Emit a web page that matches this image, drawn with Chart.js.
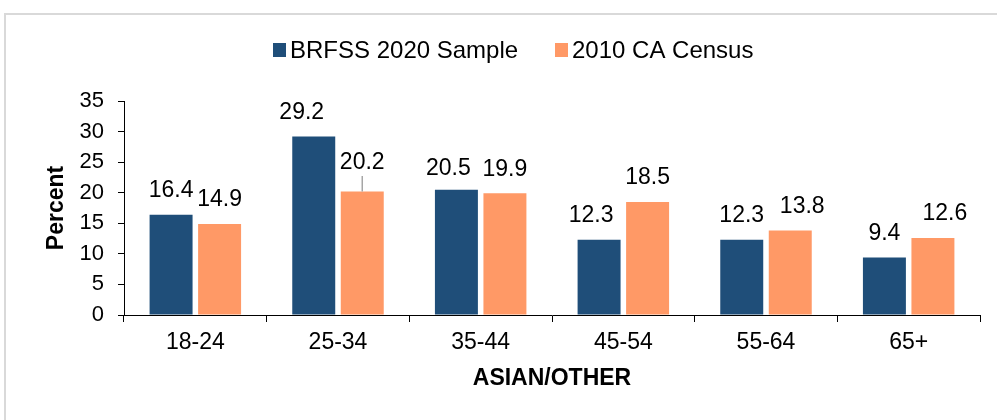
<!DOCTYPE html>
<html><head><meta charset="utf-8">
<script src="https://cdn.jsdelivr.net/npm/chart.js@4.4.1/dist/chart.umd.min.js"></script>
<style>
html,body{margin:0;padding:0;background:#fff;overflow:hidden}
#wrap{position:relative;width:997px;height:420px}
#frame{position:absolute;left:4px;top:13px;width:1000px;height:420px;border:2px solid #d9d9d9;box-sizing:border-box}
canvas{position:absolute;left:0;top:0}
</style></head><body>
<div id="wrap"><div id="frame"></div><canvas id="c" width="997" height="420"></canvas></div>
<script>
const categories = ['18-24', '25-34', '35-44', '45-54', '55-64', '65+'];
const brfss2020 = [16.4, 29.2, 20.5, 12.3, 12.3, 9.4];
const census2010 = [14.9, 20.2, 19.9, 18.5, 13.8, 12.6];
const yTicks = [0, 5, 10, 15, 20, 25, 30, 35];
const seriesNames = ['BRFSS 2020 Sample', '2010 CA Census'];
const xTitle = 'ASIAN/OTHER';
const yTitle = 'Percent';

const FONT = '"Liberation Sans", Arial, sans-serif';
const NAVY = '#1F4E79';
const ORANGE = '#FF9966';

// label nudges [dx, dy] (styling only)
const labelShift = [
  [[0,0],[-12,0],[-8,3],[-8,0],[0,0],[0,0]],
  [[0,0],[0,-4.5],[0,0],[0,0],[12,0],[12,0]]
];

const valueLabels = {
  id: 'valueLabels',
  afterDatasetsDraw(chart) {
    const ctx = chart.ctx;
    ctx.save();
    ctx.font = '23px ' + FONT;
    ctx.fillStyle = '#000';
    ctx.textAlign = 'center';
    ctx.textBaseline = 'middle';
    chart.data.datasets.forEach((ds, di) => {
      const meta = chart.getDatasetMeta(di);
      meta.data.forEach((bar, i) => {
        const [dx, dy] = labelShift[di][i];
        const ty = bar.y - 24 + dy;
        ctx.fillText(ds.data[i].toFixed(1), bar.x + dx, ty);
        if (di === 1 && i === 1) {
          ctx.strokeStyle = '#A6A6A6';
          ctx.lineWidth = 1.5;
          ctx.beginPath();
          ctx.moveTo(bar.x, ty + 13);
          ctx.lineTo(bar.x, bar.y);
          ctx.stroke();
        }
      });
    });
    ctx.restore();
  }
};

const customLegend = {
  id: 'customLegend',
  afterDraw(chart) {
    const ctx = chart.ctx;
    const xs = [273, 555];
    ctx.save();
    ctx.font = '24px ' + FONT;
    ctx.textBaseline = 'middle';
    ctx.textAlign = 'left';
    chart.data.datasets.forEach((ds, di) => {
      const x = xs[di];
      ctx.fillStyle = ds.backgroundColor;
      ctx.fillRect(x, 43, 13, 14);
      ctx.fillStyle = '#000';
      ctx.fillText(ds.label, x + 17, 51);
    });
    ctx.restore();
  }
};

new Chart(document.getElementById('c'), {
  type: 'bar',
  data: {
    labels: categories,
    datasets: [
      { label: seriesNames[0], data: brfss2020, backgroundColor: NAVY },
      { label: seriesNames[1], data: census2010, backgroundColor: ORANGE }
    ]
  },
  options: {
    responsive: false,
    animation: false,
    devicePixelRatio: 1,
    categoryPercentage: 0.68,
    barPercentage: 0.886,
    layout: { padding: { top: 101, right: 17, bottom: 0, left: 0 } },
    plugins: { legend: { display: false }, tooltip: { enabled: false } },
    scales: {
      x: {
        grid: { offset: true, drawOnChartArea: false, drawTicks: true, tickLength: 7, color: '#000', lineWidth: 1 },
        border: { display: true, color: '#000', width: 1 },
        ticks: { color: '#000', font: { family: FONT, size: 23 }, padding: 7, maxRotation: 0 },
        title: { display: true, text: xTitle, color: '#000', font: { family: FONT, size: 23, weight: 'bold' }, padding: { top: 0, bottom: 28 } },
        afterFit(s) { s.height = 105; }
      },
      y: {
        min: 0, max: 35,
        afterBuildTicks(s) { s.ticks = yTicks.map(v => ({ value: v })); },
        grid: { drawOnChartArea: false, drawTicks: true, tickLength: 6, color: '#000', lineWidth: 1 },
        border: { display: true, color: '#000', width: 1 },
        ticks: { color: '#000', font: { family: FONT, size: 22 }, padding: 14 },
        title: { display: true, text: yTitle, color: '#000', font: { family: FONT, size: 23, weight: 'bold' }, padding: { top: 43, bottom: 0 } },
        afterFit(s) { s.width = 124; }
      }
    }
  },
  plugins: [valueLabels, customLegend]
});
</script>
</body></html>
